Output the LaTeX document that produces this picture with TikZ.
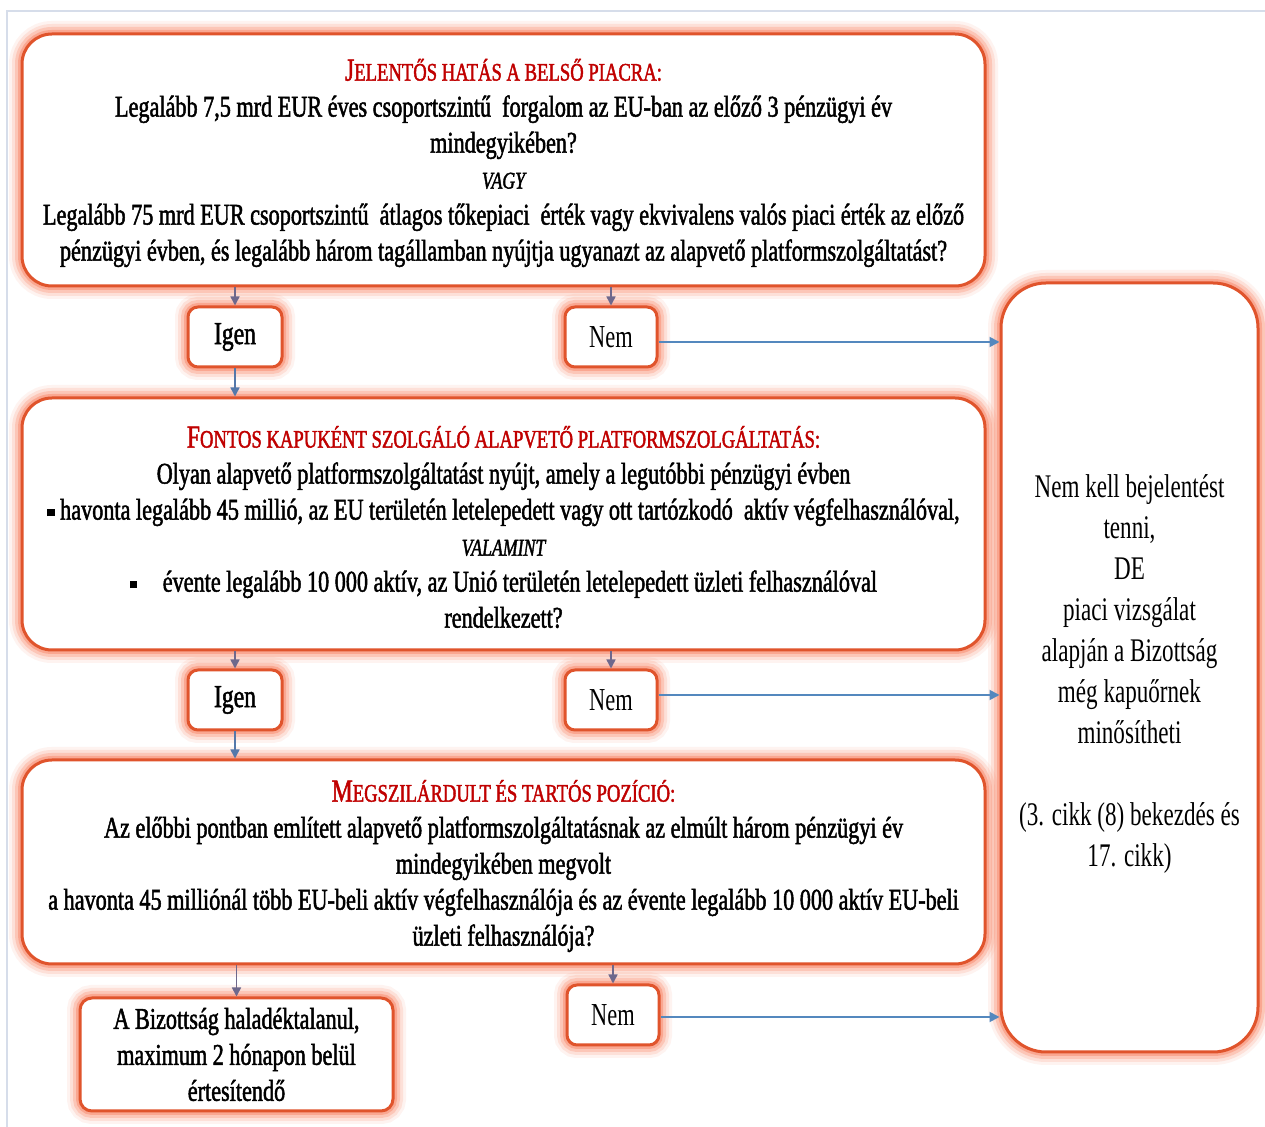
\documentclass[tikz,border=0pt]{standalone}
\usepackage{fontspec}
\setmainfont{Liberation Serif}[FakeStretch=0.7]
\newfontfamily\semibold{Liberation Serif}[FakeStretch=0.74,FakeBold=1.6]
\usetikzlibrary{arrows.meta}

\definecolor{edgec}{RGB}{224,84,44}
\definecolor{glowc}{RGB}{250,138,108}
\definecolor{titlered}{RGB}{192,0,0}
\definecolor{greyarrow}{RGB}{110,104,140}
\definecolor{bluearrow}{RGB}{84,120,170}
\definecolor{sidearrow}{RGB}{84,136,190}
\definecolor{framec}{RGB}{214,221,234}

% small-caps heading: large initial, smaller capitals after it
\newcommand\headsc[2]{{\color{titlered}{\fontsize{16}{18}\selectfont #1}{\fontsize{12.6}{18}\selectfont #2}}}
\newcommand\orword[1]{{\fontsize{12}{18}\selectfont\itshape #1}}
\newcommand\sqbullet{\raisebox{0.25ex}{\rule{3.6pt}{3.6pt}}}

\begin{document}
\begin{tikzpicture}[x=0.5pt,y=-0.5pt,
  glow/.style={
    preaction={draw=glowc,line width=13pt,opacity=0.10},
    preaction={draw=glowc,line width=10pt,opacity=0.18},
    preaction={draw=glowc,line width=7pt,opacity=0.30},
    preaction={draw=glowc,line width=4pt,opacity=0.50}},
  box/.style={glow,draw=edgec,line width=1.5pt,fill=white,align=center,
    inner sep=0pt,rounded corners=15pt},
  question/.style={box,minimum width=481.5pt,minimum height=126pt},
  qtext/.style={align=center,font=\semibold\fontsize{15}{18}\selectfont},
  answer/.style={box,rounded corners=5pt,minimum height=30pt,
    font=\fontsize{16}{18}\selectfont},
  yes/.style={answer,minimum width=47pt,font=\semibold\fontsize{16}{18}\selectfont},
  no/.style={answer,minimum width=46pt},
  downarrow/.style={draw=greyarrow,line width=0.8pt,
    -{Triangle[length=4.5pt,width=4.5pt]}},
  passarrow/.style={draw=bluearrow,line width=0.8pt,
    -{Triangle[length=4.5pt,width=4.5pt]}},
  sidearrow/.style={draw=sidearrow,line width=0.9pt,
    -{Triangle[length=5pt,width=5pt]}}]

\useasboundingbox (0,0) rectangle (1265,1127);
\fill[white] (0,0) rectangle (1265,1127);
\draw[framec,line width=1.2pt] (7,1127) -- (7,11) -- (1265,11);

% first test
\node[question] (q1) at (503.5,160) {};
\node[qtext] (q1text) at (503.5,163) {%
  \headsc{J}{ELENTŐS HATÁS A BELSŐ PIACRA:}\\
  Legalább 7,5 mrd EUR éves csoportszintű \ forgalom az EU-ban az előző 3 pénzügyi év\\
  mindegyikében?\\
  \orword{VAGY}\\
  Legalább 75 mrd EUR csoportszintű \ átlagos tőkepiaci \ érték vagy ekvivalens valós piaci érték az előző\\
  pénzügyi évben, és legalább három tagállamban nyújtja ugyanazt az alapvető platformszolgáltatást?};

\node[yes] (i1) at (235,337) {Igen};
\node[no] (n1) at (611,337) {Nem};

% second test
\node[question] (q2) at (503.5,524) {};
\node[qtext] (q2text) at (503.5,527) {%
  \headsc{F}{ONTOS KAPUKÉNT SZOLGÁLÓ ALAPVETŐ PLATFORMSZOLGÁLTATÁS:}\\
  Olyan alapvető platformszolgáltatást nyújt, amely a legutóbbi pénzügyi évben\\
  \sqbullet\ havonta legalább 45 millió, az EU területén letelepedett vagy ott tartózkodó \ aktív végfelhasználóval,\\
  \orword{VALAMINT}\\
  \sqbullet\hspace{10pt} évente legalább 10 000 aktív, az Unió területén letelepedett üzleti felhasználóval\\
  rendelkezett?};

\node[yes] (i2) at (235,700) {Igen};
\node[no] (n2) at (611,700) {Nem};

% third test
\node[question,minimum height=102pt] (q3) at (503.5,862) {};
\node[qtext] (q3text) at (503.5,866) {%
  \headsc{M}{EGSZILÁRDULT ÉS TARTÓS POZÍCIÓ:}\\
  Az előbbi pontban említett alapvető platformszolgáltatásnak az elmúlt három pénzügyi év\\
  mindegyikében megvolt\\
  a havonta 45 milliónál több EU-beli aktív végfelhasználója és az évente legalább 10 000 aktív EU-beli\\
  üzleti felhasználója?};

\node[box,rounded corners=6pt,minimum width=156.5pt,minimum height=56.5pt,
  font=\semibold\fontsize{15}{18}\selectfont] (fin) at (236.5,1054.5) {%
  A Bizottság haladéktalanul,\\ maximum 2 hónapon belül\\ értesítendő};
\node[no] (n3) at (613,1015) {Nem};

% outcome for every "Nem"
\node[box,rounded corners=22.5pt,minimum width=128.5pt,minimum height=384.5pt]
  (out) at (1129.5,667.5) {};
\node[align=center,font=\fontsize{16.5}{20.5}\selectfont] (outtext) at (1129.5,674) {%
  Nem kell bejelentést\\ tenni,\\ DE\\ piaci vizsgálat\\ alapján a Bizottság\\
  még kapuőrnek\\ minősítheti\\ ~\\ (3. cikk (8) bekezdés és\\ 17. cikk)};

% connectors
\draw[downarrow] (q1.south -| i1) -- (i1.north);
\draw[downarrow] (q1.south -| n1) -- (n1.north);
\draw[passarrow] (i1.south) -- (i1.south |- q2.north);
\draw[downarrow] (q2.south -| i2) -- (i2.north);
\draw[downarrow] (q2.south -| n2) -- (n2.north);
\draw[passarrow] (i2.south) -- (i2.south |- q3.north);
\draw[downarrow] (q3.south -| fin) -- (fin.north);
\draw[downarrow] (q3.south -| n3) -- (n3.north);
\draw[sidearrow] ([yshift=-2.5pt]n1.east) -- ([yshift=-2.5pt]n1.east -| out.west);
\draw[sidearrow] ([yshift=2.5pt]n2.east) -- ([yshift=2.5pt]n2.east -| out.west);
\draw[sidearrow] ([yshift=-1pt]n3.east) -- ([yshift=-1pt]n3.east -| out.west);
\end{tikzpicture}
\end{document}
